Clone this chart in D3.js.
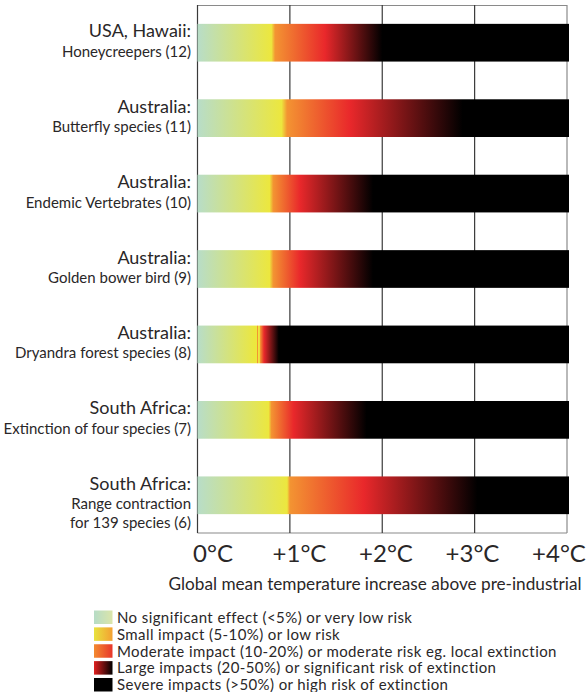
<!DOCTYPE html>
<html>
<head>
<meta charset="utf-8">
<script src="https://cdn.jsdelivr.net/npm/d3@7"></script>
<style>
  html, body { margin: 0; padding: 0; background: #fff; }
  svg { display: block; }
  text { font-family: Lato, "Open Sans", sans-serif; fill: #2a2728; }
</style>
</head>
<body>
<svg id="chart" width="587" height="692"></svg>
<script>
// ---------------- data ----------------
const regions = ["USA, Hawaii:", "Australia:", "Australia:", "Australia:", "Australia:", "South Africa:", "South Africa:"];
const species = [
  ["Honeycreepers (12)"],
  ["Butterfly species (11)"],
  ["Endemic Vertebrates (10)"],
  ["Golden bower bird (9)"],
  ["Dryandra forest species (8)"],
  ["Extinction of four species (7)"],
  ["Range contraction", "for 139 species (6)"]
];
// temperatures (°C) where each impact colour is reached along each bar
const yellowAt = [0.80, 0.91, 0.78, 0.78, 0.62, 0.77, 0.97];
const orangeAt = [0.84, 0.97, 0.82, 0.82, 0.68, 0.80, 1.00];
const redAt    = [1.38, 1.65, 1.11, 1.11, 0.72, 1.04, 1.80];
const blackAt  = [2.00, 2.87, 1.90, 1.90, 0.88, 1.83, 3.03];
const spikeAt  = [null, null, null, null, 0.645, null, null]; // thin orange streak

const tickValues = [0, 1, 2, 3, 4];
const tickLabels = ["0°C", "+1°C", "+2°C", "+3°C", "+4°C"];
const axisTitle = "Global mean temperature increase above pre-industrial";

const legendLabels = [
  "No significant effect (<5%) or very low risk",
  "Small impact (5-10%) or low risk",
  "Moderate impact (10-20%) or moderate risk eg. local extinction",
  "Large impacts (20-50%) or significant risk of extinction",
  "Severe impacts (>50%) or high risk of extinction"
];
const legendColors = [
  ["#b6dcc6", "#dbe5aa"],
  ["#e8e23e", "#f4a032"],
  ["#f38a30", "#e8362b"],
  ["#e0201f", "#000000"],
  ["#000000", "#000000"]
];

// ---------------- drawing ----------------
const C = { mint: "#b8ddc8", yellow: "#ece73e", orange: "#f39432", red: "#e9282b", black: "#000000" };

const svg = d3.select("#chart");
const defs = svg.append("defs");

const x = d3.scaleLinear().domain([0, 4]).range([197.5, 567]);
const y = d3.scaleBand().domain(d3.range(regions.length)).range([5, 533])
  .paddingInner(0.5).paddingOuter(0.25);

// frame
const plot = svg.append("g");
plot.append("line").attr("x1", x(0)).attr("x2", x(4)).attr("y1", 5.5).attr("y2", 5.5)
  .attr("stroke", "#8a8a8a").attr("stroke-width", 1.2);
plot.append("line").attr("x1", x(0)).attr("x2", x(4)).attr("y1", 533).attr("y2", 533)
  .attr("stroke", "#8a8a8a").attr("stroke-width", 1.2);
plot.selectAll("line.grid").data(tickValues).join("line")
  .attr("class", "grid")
  .attr("x1", d => x(d)).attr("x2", d => x(d))
  .attr("y1", 5).attr("y2", 533)
  .attr("stroke", d => (d === 4 ? "#8a8a8a" : "#3a3a3a"))
  .attr("stroke-width", 1.2);

// gradients per bar
const off = t => (x(t) - x(0)) / (x(4) - x(0));
regions.forEach((r, i) => {
  const g = defs.append("linearGradient").attr("id", "g" + i)
    .attr("gradientUnits", "userSpaceOnUse")
    .attr("x1", x(0)).attr("x2", x(4)).attr("y1", 0).attr("y2", 0);
  const stops = [[0, C.mint]];
  if (spikeAt[i] != null) {
    const s = spikeAt[i];
    stops.push([yellowAt[i], C.yellow]);
    stops.push([s - 0.006, C.yellow]);
    stops.push([s, C.orange]);
    stops.push([s + 0.008, C.orange]);
    stops.push([s + 0.014, C.yellow]);
    stops.push([orangeAt[i] - 0.01, C.yellow]);
  } else {
    stops.push([yellowAt[i], C.yellow]);
  }
  stops.push([orangeAt[i], C.orange]);
  stops.push([redAt[i], C.red]);
  stops.push([blackAt[i], C.black]);
  stops.push([4, C.black]);
  g.selectAll("stop").data(stops).join("stop")
    .attr("offset", d => off(d[0]))
    .attr("stop-color", d => d[1]);
});

// bars
svg.append("g").selectAll("rect").data(regions).join("rect")
  .attr("x", x(0))
  .attr("y", (d, i) => y(i))
  .attr("width", x(4) - x(0) + 2)
  .attr("height", y.bandwidth())
  .attr("fill", (d, i) => `url(#g${i})`);

// labels
const lab = svg.append("g");
regions.forEach((r, i) => {
  const cy = y(i) + y.bandwidth() / 2;
  lab.append("text").attr("x", 191).attr("y", cy - 5.5)
    .attr("text-anchor", "end").style("font-size", "18px").text(r);
  species[i].forEach((s, j) => {
    lab.append("text").attr("x", 191).attr("y", cy + 14 + j * 18.5)
      .attr("text-anchor", "end").style("font-size", "15px").text(s);
  });
});

// tick labels (shifted slightly as in the original artwork)
const tickPos = d3.scaleLinear().domain([0, 4]).range([213, 559]);
svg.append("g").selectAll("text").data(tickValues).join("text")
  .attr("x", d => tickPos(d)).attr("y", 562)
  .attr("text-anchor", "middle").style("font-size", "24px")
  .text((d, i) => tickLabels[i]);

svg.append("text").attr("x", 375).attr("y", 590)
  .attr("text-anchor", "middle").style("font-size", "17.2px").text(axisTitle);

// legend
const lg = svg.append("g");
legendColors.forEach((c, i) => {
  const gr = defs.append("linearGradient").attr("id", "lg" + i);
  gr.append("stop").attr("offset", 0).attr("stop-color", c[0]);
  gr.append("stop").attr("offset", 1).attr("stop-color", c[1]);
});
const ly = d3.scaleBand().domain(d3.range(legendLabels.length)).range([610.5, 692]).paddingInner(0.17).paddingOuter(0);
lg.selectAll("rect").data(legendLabels).join("rect")
  .attr("x", 94).attr("y", (d, i) => ly(i))
  .attr("width", 18.5).attr("height", 13.5)
  .attr("fill", (d, i) => `url(#lg${i})`);
lg.selectAll("text").data(legendLabels).join("text")
  .attr("x", 117).attr("y", (d, i) => ly(i) + 12.3)
  .style("font-size", "15px").style("letter-spacing", "0.4px").text(d => d);
</script>
</body>
</html>
